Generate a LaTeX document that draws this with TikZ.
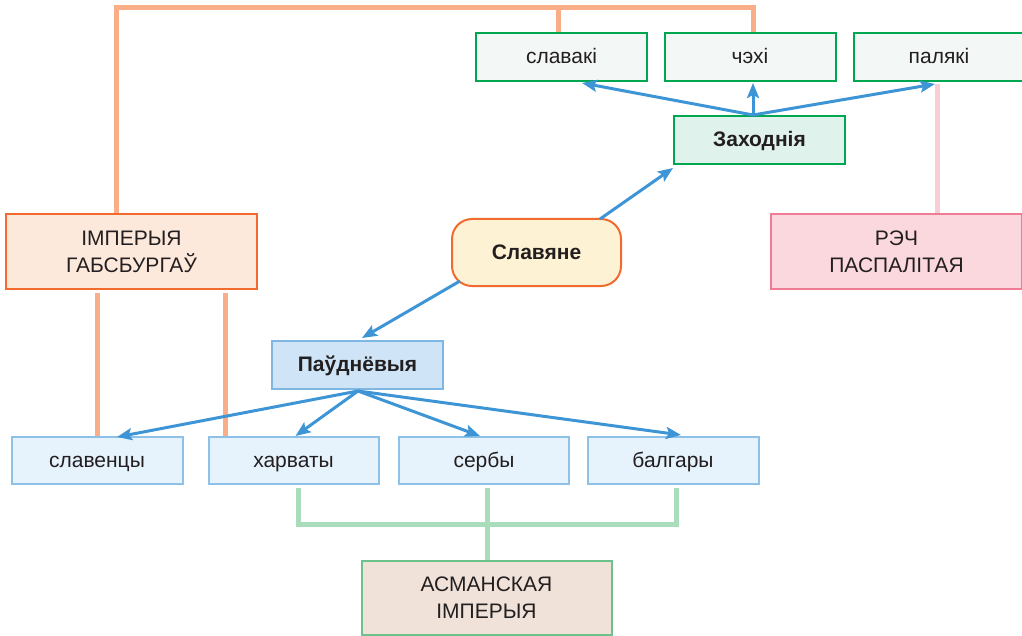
\documentclass[tikz,border=0pt]{standalone}
\usepackage{fontspec}
\setmainfont{Liberation Sans}
\usetikzlibrary{arrows.meta,backgrounds}
\definecolor{txt}{HTML}{231F20}
\definecolor{habline}{HTML}{F9AE87}
\definecolor{arrblue}{HTML}{3D95D5}
\definecolor{wgreen}{HTML}{00A650}
\definecolor{wleaf}{HTML}{F3F8F6}
\definecolor{wmid}{HTML}{E0F2EC}
\definecolor{slfill}{HTML}{FEF2D5}
\definecolor{orbord}{HTML}{F26A2E}
\definecolor{impfill}{HTML}{FDE8DC}
\definecolor{rechfill}{HTML}{FAD8DD}
\definecolor{rechbord}{HTML}{F07C94}
\definecolor{pinkline}{HTML}{F9CDD6}
\definecolor{sfill}{HTML}{CFE5F7}
\definecolor{sbord}{HTML}{80B7E2}
\definecolor{sleaf}{HTML}{E6F3FC}
\definecolor{sleafb}{HTML}{8EC1E8}
\definecolor{grline}{HTML}{A9DCBA}
\definecolor{asfill}{HTML}{F0E2D8}
\definecolor{asbord}{HTML}{6CC28A}
\tikzset{
  box/.style={draw, line width=2pt, inner sep=0pt, outer sep=0pt, align=center,
    text=txt, font=\fontsize{21}{27}\selectfont, minimum height=48pt},
  oneline/.style={text height=16pt, text depth=3pt},
  wleafbox/.style={box, oneline, draw=wgreen, fill=wleaf, minimum width=171pt},
  wmidbox/.style={box, oneline, draw=wgreen, fill=wmid, minimum width=171pt, font=\fontsize{21}{27}\selectfont\bfseries},
  sleafbox/.style={box, oneline, draw=sleafb, fill=sleaf, minimum width=171pt, minimum height=47pt},
  smidbox/.style={box, oneline, draw=sbord, fill=sfill, minimum width=171pt, font=\fontsize{21}{27}\selectfont\bfseries},
  bigbox/.style={box, minimum width=251pt, minimum height=75pt},
  hab/.style={draw=habline, line width=5pt},
  pnk/.style={draw=pinkline, line width=5pt},
  grn/.style={draw=grline, line width=5pt},
  arr/.style={draw=arrblue, line width=3pt, -{Stealth[length=15pt,width=12pt,inset=3pt]}},
}
\begin{document}
\begin{tikzpicture}[x=1pt,y=-1pt]
\useasboundingbox (0,0) rectangle (1022,636);
% top row
\node[wleafbox] (slavaki) at (561.5,57) {славакі};
\node[wleafbox] (chehi) at (750,57) {чэхі};
\node[wleafbox] (palyaki) at (939,57) {палякі};
\node[wmidbox] (zakh) at (759.5,140) {Заходнія};
% middle
\node[box, oneline, draw=orbord, fill=slfill, minimum width=169pt, minimum height=67pt,
  rounded corners=20pt, font=\fontsize{21}{27}\selectfont\bfseries] (slav) at (536.5,252.5) {Славяне};
\node[bigbox, draw=rechbord, fill=rechfill] (rech) at (896.5,251.5) {РЭЧ\\ПАСПАЛІТАЯ};
\node[bigbox, draw=orbord, fill=impfill] (imp) at (131.5,251.5) {ІМПЕРЫЯ\\ГАБСБУРГАЎ};
\node[smidbox] (paud) at (357.5,365) {Паўднёвыя};
% bottom row
\node[sleafbox] (slaven) at (97,460.5) {славенцы};
\node[sleafbox, minimum width=170pt] (kharv) at (293.5,460.5) {харваты};
\node[sleafbox, minimum width=170pt] (serb) at (484,460.5) {сербы};
\node[sleafbox] (balg) at (673,460.5) {балгары};
\node[bigbox, draw=asbord, fill=asfill, minimum width=250pt, minimum height=74pt] (asman) at (486.5,598) {АСМАНСКАЯ\\ІМПЕРЫЯ};

\begin{scope}[on background layer]
% Habsburg lines
\draw[hab] ([xshift=-15.5pt]imp.north) -- ++(0,-206.5) -| ([xshift=3pt]chehi.north);
\draw[hab] ([xshift=-3.5pt]slavaki.north) -- ++(0,-25.5);
\draw[hab] (slaven.north) -- ++(0,-144);
\draw[hab] ([xshift=-68.5pt]kharv.north) -- ++(0,-144);
% Rech line
\draw[pnk] ([xshift=-2pt,yshift=-3pt]palyaki.south) -- ([xshift=40.5pt]rech.north);
% Ottoman lines
\draw[grn] ([xshift=4.5pt,yshift=-4pt]kharv.south) -- ++(0,36) -| ([xshift=3pt,yshift=-4pt]balg.south);
\draw[grn] ([xshift=3pt,yshift=-4pt]serb.south) -- ([xshift=0.5pt]asman.north);
\end{scope}

% blue arrows
\coordinate (J) at ([xshift=-6.5pt,yshift=1pt]zakh.north);
\draw[arr] (J) -- ([xshift=20.5pt,yshift=-2pt]slavaki.south);
\draw[arr] (J) -- ([xshift=3pt,yshift=-2pt]chehi.south);
\draw[arr] (J) -- ([xshift=-4pt,yshift=-3pt]palyaki.south);
\draw[arr] ([xshift=63.5pt]slav.north) -- ([xshift=-1pt,yshift=-4pt]zakh.south west);
\draw[arr] ([xshift=8pt,yshift=5pt]slav.south west) -- ([xshift=4.5pt,yshift=3pt]paud.north);
\coordinate (P) at ([xshift=0.5pt,yshift=-2pt]paud.south);
\draw[arr] (P) -- ([xshift=20pt]slaven.north);
\draw[arr] (P) -- ([xshift=2pt,yshift=1pt]kharv.north);
\draw[arr] (P) -- ([xshift=-4pt,yshift=1pt]serb.north);
\draw[arr] (P) -- ([xshift=8pt,yshift=2pt]balg.north);
\end{tikzpicture}
\end{document}
